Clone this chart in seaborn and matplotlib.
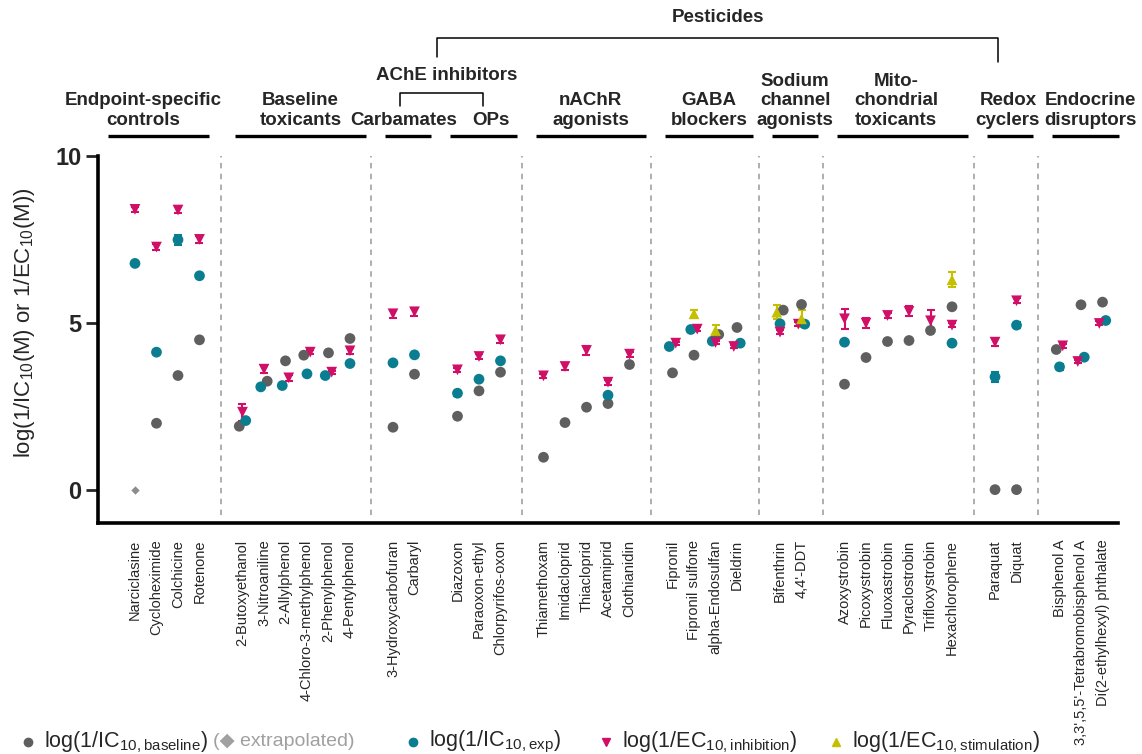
import numpy as np
import pandas as pd
import matplotlib
matplotlib.use("Agg")
import matplotlib.pyplot as plt
import matplotlib.transforms as mtransforms
from matplotlib.lines import Line2D
import seaborn as sns

# groupes de composés (titre, nombre de composés)
GROUP_TITLES = ["Endpoint-specific\ncontrols", "Baseline\ntoxicants", "Carbamates", "OPs",
                "nAChR\nagonists", "GABA\nblockers", "Sodium\nchannel\nagonists",
                "Mito-\nchondrial\ntoxicants", "Redox\ncyclers", "Endocrine\ndisruptors"]
GROUP_SIZES = [4, 6, 2, 3, 5, 4, 2, 6, 2, 3]
NO_DIVIDER_AFTER = ["Carbamates"]  # pas de ligne pointillée entre carbamates et OPs

COMPOUNDS = ["Narciclasine", "Cycloheximide", "Colchicine", "Rotenone",
             "2-Butoxyethanol", "3-Nitroaniline", "2-Allylphenol", "4-Chloro-3-methylphenol",
             "2-Phenylphenol", "4-Pentylphenol",
             "3-Hydroxycarbofuran", "Carbaryl",
             "Diazoxon", "Paraoxon-ethyl", "Chlorpyrifos-oxon",
             "Thiamethoxam", "Imidacloprid", "Thiacloprid", "Acetamiprid", "Clothianidin",
             "Fipronil", "Fipronil sulfone", "alpha-Endosulfan", "Dieldrin",
             "Bifenthrin", "4,4'-DDT",
             "Azoxystrobin", "Picoxystrobin", "Fluoxastrobin", "Pyraclostrobin",
             "Trifloxystrobin", "Hexachlorophene",
             "Paraquat", "Diquat",
             "Bisphenol A", "3,3',5,5'-Tetrabromobisphenol A", "Di(2-ethylhexyl) phthalate"]

N = np.nan
IC10_BASELINE = [0.00, 1.99, 3.42, 4.49,
                 1.90, 3.25, 3.86, 4.03, 4.10, 4.53,
                 1.87, 3.46,
                 2.20, 2.96, 3.52,
                 0.97, 2.01, 2.47, 2.58, 3.75,
                 3.50, 4.03, 4.65, 4.86,
                 5.38, 5.55,
                 3.16, 3.96, 4.44, 4.47, 4.77, 5.48,
                 0.00, 0.00,
                 4.20, 5.54, 5.62]
EXTRAPOLATED = ["Narciclasine"]

IC10_EXP = [6.78, 4.12, 7.49, 6.41,
            2.07, 3.08, 3.12, 3.47, 3.42, 3.78,
            3.80, 4.04,
            2.89, 3.31, 3.86,
            N, N, N, 2.83, N,
            4.29, 4.80, 4.45, 4.39,
            4.97, 4.96,
            4.42, N, N, N, N, 4.39,
            3.38, 4.93,
            3.68, 3.97, 5.07]
IC10_EXP_ERR = [0.05, 0.06, 0.15, 0.05,
                0.04, 0.04, 0.05, 0.04, 0.04, 0.04,
                0.04, 0.04,
                0.08, 0.05, 0.04,
                N, N, N, 0.05, N,
                0.04, 0.04, 0.04, 0.04,
                0.04, 0.04,
                0.04, N, N, N, N, 0.04,
                0.16, 0.10,
                0.08, 0.04, 0.08]

EC10_INHIB = [8.40, 7.27, 8.38, 7.50,
              2.32, 3.61, 3.35, 4.12, 3.52, 4.16,
              5.27, 5.33,
              3.59, 3.99, 4.49,
              3.41, 3.69, 4.17, 3.22, 4.06,
              4.39, 4.81, 4.41, 4.29,
              4.72, 4.96,
              5.12, 4.99, 5.22, 5.34, 5.06, 4.93,
              4.42, 5.66,
              4.31, 3.84, 4.98]
EC10_INHIB_ERR = [0.07, 0.10, 0.10, 0.10,
                  0.25, 0.10, 0.10, 0.06, 0.05, 0.08,
                  0.12, 0.12,
                  0.07, 0.07, 0.10,
                  0.06, 0.10, 0.13, 0.07, 0.08,
                  0.05, 0.05, 0.05, 0.05,
                  0.07, 0.05,
                  0.30, 0.15, 0.08, 0.15, 0.33, 0.05,
                  0.10, 0.08,
                  0.05, 0.05, 0.06]

EC10_STIM = [N] * 21 + [5.27, 4.77, N, 5.32, 5.12] + [N] * 5 + [6.29] + [N] * 5
EC10_STIM_ERR = [N] * 21 + [0.10, 0.15, N, 0.20, 0.25] + [N] * 5 + [0.22] + [N] * 5

SERIES = ["baseline", "exp", "inhibition", "stimulation"]
COLORS = {"baseline": "#5f5f5f", "exp": "#0a7d90", "inhibition": "#d01067",
          "stimulation": "#c4c000"}
MARKERS = {"baseline": "o", "exp": "o", "inhibition": "v", "stimulation": "^"}

# positions sur l'axe x : un emplacement vide entre chaque groupe
positions, dividers, spans = [], [], []
slot = 0
for gi, size in enumerate(GROUP_SIZES):
    spans.append((slot, slot + size - 1))
    positions.extend(range(slot, slot + size))
    slot += size
    if gi < len(GROUP_SIZES) - 1:
        if GROUP_TITLES[gi] not in NO_DIVIDER_AFTER:
            dividers.append(slot)
        slot += 1

rows = []
for i, name in enumerate(COMPOUNDS):
    vals = {"baseline": (IC10_BASELINE[i], N), "exp": (IC10_EXP[i], IC10_EXP_ERR[i]),
            "inhibition": (EC10_INHIB[i], EC10_INHIB_ERR[i]),
            "stimulation": (EC10_STIM[i], EC10_STIM_ERR[i])}
    present = [s for s in SERIES if not np.isnan(vals[s][0])]
    offs = {s: 0.0 for s in present}
    # petit décalage quand deux points se chevauchent
    for a in present:
        for b in present:
            if a < b and abs(vals[a][0] - vals[b][0]) < 0.25 and offs[a] == 0 and offs[b] == 0:
                lo, hi = (a, b) if vals[a][0] < vals[b][0] else (b, a)
                offs[lo], offs[hi] = -0.15, 0.15
    for s in present:
        series = s
        if s == "baseline" and name in EXTRAPOLATED:
            series = "extrapolated"
        rows.append({"compound": name, "x": positions[i] + offs[s], "value": vals[s][0],
                     "err": vals[s][1], "series": series})
df = pd.DataFrame(rows)

sns.set_theme(style="white")
plt.rcParams["font.family"] = ["Liberation Sans", "DejaVu Sans"]
plt.rcParams["mathtext.default"] = "regular"

fig = plt.figure(figsize=(11.42, 7.54), dpi=100)
ax = fig.add_axes([98 / 1142, 1 - 523 / 754, 1020 / 1142, 367 / 754])

for d in dividers:
    ax.plot([d, d], [-0.75, 10], ls=(0, (3, 3)), color="#a8a8a8", lw=1.3, zorder=1)

for s in SERIES:
    sub = df[(df.series == s) & df.err.notna()]
    if len(sub):
        ax.errorbar(sub.x, sub.value, yerr=sub.err, fmt="none", ecolor=COLORS[s],
                    elinewidth=1.5, capsize=3, capthick=1.5, zorder=2)

pal = dict(COLORS)
pal["extrapolated"] = "#8c8c8c"
main = df[df.series != "extrapolated"]
sns.scatterplot(data=main, x="x", y="value", hue="series", style="series",
                palette=pal, markers=MARKERS, hue_order=SERIES, style_order=SERIES,
                s=60, linewidth=0, legend=False, ax=ax, zorder=3)
sns.scatterplot(data=df[df.series == "extrapolated"], x="x", y="value", color=pal["extrapolated"],
                marker="D", s=18, linewidth=0, legend=False, ax=ax, zorder=3)

ax.set_xlim(-1.72, 45.72)
ax.set_ylim(-1, 10)
ax.set_yticks([0, 5, 10])
ax.set_yticklabels(["0", "5", "10"], fontsize=17, fontweight="bold")
ax.set_xticks(positions)
ax.set_xticklabels(COMPOUNDS, rotation=90, fontsize=10.5, va="top", ha="center")
ax.tick_params(axis="x", length=0, pad=12)
ax.tick_params(axis="y", length=9, width=2, pad=3, direction="out", left=True)
ax.set_xlabel("")
ax.set_ylabel(r"log(1/IC$_{10}$(M) or 1/EC$_{10}$(M))", fontsize=16)
ax.yaxis.set_label_coords(-0.06, 0.545)
for side in ["top", "right"]:
    ax.spines[side].set_visible(False)
for side in ["left", "bottom"]:
    ax.spines[side].set_linewidth(2.6)
    ax.spines[side].set_color("black")

# en-têtes des groupes
trans = mtransforms.blended_transform_factory(ax.transData, fig.transFigure)
fy = lambda py: 1 - py / 754
title_nudge = {"Carbamates": -0.2, "OPs": 0.35, "Mito-\nchondrial\ntoxicants": -0.3,
               "Redox\ncyclers": -0.1, "Endocrine\ndisruptors": 0.25}
for title, (a, b) in zip(GROUP_TITLES, spans):
    c = (a + b) / 2 + 0.2
    half = (b - a) / 2 + 0.55
    tc = c + title_nudge.get(title, 0)
    if title.startswith("Endpoint"):
        c, half, tc = 1.1, 2.35, 0.4
    ax.plot([c - half, c + half], [fy(136), fy(136)], color="black", lw=2.4,
            transform=trans, clip_on=False, solid_capstyle="butt")
    ax.text(tc, fy(129), title, transform=trans, ha="center", va="bottom",
            fontsize=13.5, fontweight="bold", linespacing=1.2)

ache = (spans[2][0] + spans[3][1]) / 2
ax.text(ache, fy(75), "AChE inhibitors", transform=trans, ha="center", va="center",
        fontsize=13.5, fontweight="bold")
ax.plot([12.33, 12.33, 16.2, 16.2], [fy(106), fy(93), fy(93), fy(106)], color="black",
        lw=1.1, transform=trans, clip_on=False)
ax.plot([14.05, 14.05, 40.15, 40.15], [fy(57), fy(38), fy(38), fy(62)], color="black",
        lw=1.1, transform=trans, clip_on=False)
ax.text((14.05 + 40.15) / 2, fy(18), "Pesticides", transform=trans, ha="center",
        va="center", fontsize=13.5, fontweight="bold")

# légende
ly = fy(742)
legend_items = [(28, "baseline", r"log(1/IC$_{10,baseline}$)"),
                (413, "exp", r"log(1/IC$_{10,exp}$)"),
                (606, "inhibition", r"log(1/EC$_{10,inhibition}$)"),
                (836, "stimulation", r"log(1/EC$_{10,stimulation}$)")]
for px, s, label in legend_items:
    fig.add_artist(Line2D([px / 1142], [ly], marker=MARKERS[s], color=COLORS[s], ls="none",
                          markersize=6, transform=fig.transFigure))
    t = fig.text((px + 16) / 1142, ly, label, fontsize=15.5, va="center", ha="left")
    if s == "baseline":
        fig.canvas.draw()
        bb = t.get_window_extent()
        fig.text(bb.x1 / 1142 + 0.005, ly, "(\u25c6 extrapolated)", fontsize=14,
                 va="center", ha="left", color="#a0a0a0")

fig.savefig("out.png", dpi=100)
